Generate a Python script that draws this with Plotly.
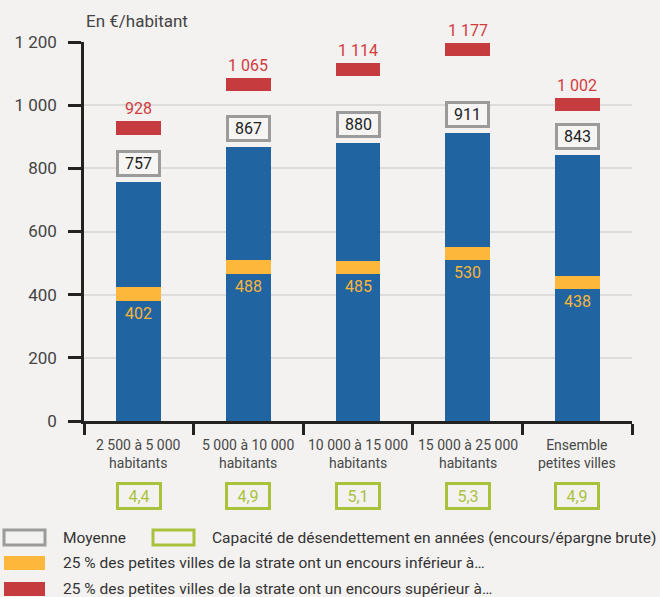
import plotly.graph_objects as go

categories = ["2 500 à 5 000<br>habitants", "5 000 à 10 000<br>habitants",
              "10 000 à 15 000<br>habitants", "15 000 à 25 000<br>habitants",
              "Ensemble<br>petites villes"]
moyenne = [757, 867, 880, 911, 843]
quartile_bas = [402, 488, 485, 530, 438]
quartile_haut = [928, 1065, 1114, 1177, 1002]
capacite = ["4,4", "4,9", "5,1", "5,3", "4,9"]
y_ticks = [0, 200, 400, 600, 800, 1000, 1200]
y_ticktext = ["0", "200", "400", "600", "800", "1 000", "1 200"]

def fr(n):
    return f"{n:,}".replace(",", " ")

BG = "#f3f2f0"
BLUE = "#2064a2"
YELLOW = "#fdb73a"
RED = "#c63c3e"
GRAY = "#9b9b9b"
GREEN = "#a9c23c"
FONT = "Roboto"
BAND = 42  # band thickness in data units
BW = 0.41

xs = list(range(len(categories)))

fig = go.Figure()
fig.add_trace(go.Bar(x=xs, y=moyenne, base=0, width=BW, marker=dict(color=BLUE, line=dict(width=0)), hoverinfo="skip"))
fig.add_trace(go.Bar(x=xs, y=[BAND]*5, base=[v - BAND/2 for v in quartile_bas], width=BW,
                     marker=dict(color=YELLOW, line=dict(width=0)), hoverinfo="skip"))
fig.add_trace(go.Bar(x=xs, y=[BAND]*5, base=[v - BAND/2 for v in quartile_haut], width=BW,
                     marker=dict(color=RED, line=dict(width=0)), hoverinfo="skip"))

ann = []
for i in xs:
    ann.append(dict(x=i, y=moyenne[i], xref="x", yref="y", text=str(moyenne[i]), showarrow=False,
                    yanchor="bottom", yshift=5, width=39, height=21, borderwidth=3, borderpad=0,
                    bordercolor=GRAY, bgcolor="#f6f5f3", font=dict(family=FONT, size=16, color="#222")))
    ann.append(dict(x=i, y=quartile_haut[i] + BAND/2, xref="x", yref="y", text=fr(quartile_haut[i]),
                    showarrow=False, yanchor="bottom", yshift=1,
                    font=dict(family=FONT, size=16, color="#d23c3f")))
    ann.append(dict(x=i, y=quartile_bas[i] - BAND/2, xref="x", yref="y", text=str(quartile_bas[i]),
                    showarrow=False, yanchor="top", yshift=-1,
                    font=dict(family=FONT, size=16, color="#f7b53a")))
    ann.append(dict(x=i, y=0, xref="x", yref="y", text=categories[i], showarrow=False,
                    yanchor="top", yshift=-14, font=dict(family=FONT, size=14, color="#484848")))
    ann.append(dict(x=i, y=0, xref="x", yref="y", text=capacite[i], showarrow=False,
                    yanchor="top", yshift=-61, width=40, height=22, borderwidth=3, borderpad=0,
                    bordercolor=GREEN, bgcolor=BG, font=dict(family=FONT, size=16, color=GREEN)))

ann.append(dict(xref="x domain", yref="y domain", x=0, y=1, yanchor="bottom", xanchor="left",
                yshift=9, text="En €/habitant", showarrow=False,
                font=dict(family=FONT, size=17, color="#444")))

L, T, W, H = 84, 42, 548, 379
def dx(px): return (px - L) / W
def dy(py): return (T + H - py) / H

shapes = []
legend = [
    (4, 530, 45, 545, GRAY, None, "Moyenne", 61),
    (153, 530, 194, 545, GREEN, None, "Capacité de désendettement en années (encours/épargne brute)", 210),
    (4, 556, 45, 570, None, YELLOW, "25 % des petites villes de la strate ont un encours inférieur à…", 61),
    (4, 582, 45, 596, None, RED, "25 % des petites villes de la strate ont un encours supérieur à…", 61),
]
for x0, y0, x1, y1, lc, fc, txt, tx in legend:
    shapes.append(dict(type="rect", xref="x domain", yref="y domain", x0=dx(x0), x1=dx(x1), y0=dy(y0), y1=dy(y1),
                       line=dict(color=lc or "rgba(0,0,0,0)", width=3 if lc else 0),
                       fillcolor=fc or "rgba(0,0,0,0)", layer="above"))
    ann.append(dict(xref="x domain", yref="y domain", x=dx(tx), y=dy((y0 + y1) / 2), text=txt, showarrow=False,
                    xanchor="left", yanchor="middle", font=dict(family=FONT, size=15.5, color="#333")))

fig.update_layout(
    width=660, height=597, margin=dict(l=L, r=660 - L - W, t=T, b=597 - T - H, autoexpand=False),
    paper_bgcolor=BG, plot_bgcolor=BG, showlegend=False, barmode="overlay", bargap=0,
    annotations=ann, shapes=shapes, hovermode=False,
    xaxis=dict(range=[-0.5, 4.5], tickvals=[-0.5, 0.5, 1.5, 2.5, 3.5, 4.5], ticktext=[""] * 6,
               ticks="outside", ticklen=11, tickwidth=2.5, tickcolor="#222",
               showline=True, linecolor="#222", linewidth=2.5, showgrid=False, zeroline=False, fixedrange=True),
    yaxis=dict(range=[0, 1200], tickvals=y_ticks, ticktext=y_ticktext, ticks="outside", ticklen=13,
               tickwidth=2.5, tickcolor="#222", showline=True, linecolor="#222", linewidth=2.5,
               showgrid=True, gridcolor="#dddcda", gridwidth=1.5, zeroline=False, ticklabelstandoff=8,
               tickfont=dict(family=FONT, size=17, color="#444"), fixedrange=True),
)

fig.write_html("out.html", config=dict(displayModeBar=False),
               post_script="document.body.style.margin='0';document.body.style.overflow='hidden';")
